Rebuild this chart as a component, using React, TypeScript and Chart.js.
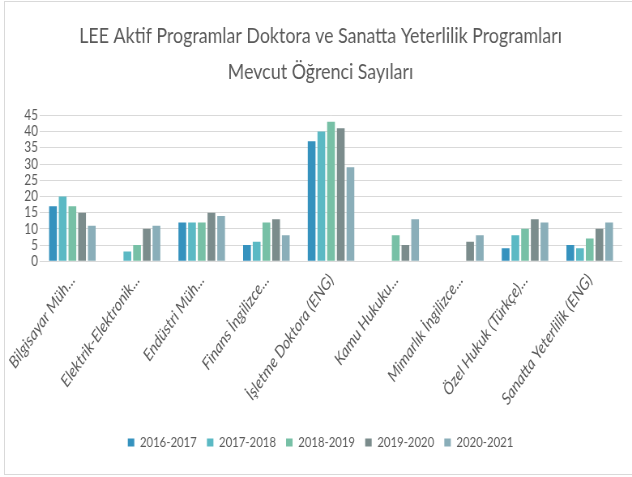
import React, { useEffect, useRef } from "react";
import { Chart, registerables } from "chart.js";

Chart.register(...registerables);

const categories = [
  "Bilgisayar Müh...",
  "Elektrik-Elektronik...",
  "Endüstri Müh...",
  "Finans İngilizce...",
  "İşletme Doktora (ENG)",
  "Kamu Hukuku...",
  "Mimarlık İngilizce...",
  "Özel Hukuk (Türkçe)...",
  "Sanatta Yeterlilik (ENG)",
];

const seriesNames = ["2016-2017", "2017-2018", "2018-2019", "2019-2020", "2020-2021"];

const y2016 = [17, null, 12, 5, 37, null, null, 4, 5];
const y2017 = [20, 3, 12, 6, 40, null, null, 8, 4];
const y2018 = [17, 5, 12, 12, 43, 8, null, 10, 7];
const y2019 = [15, 10, 15, 13, 41, 5, 6, 13, 10];
const y2020 = [11, 11, 14, 8, 29, 13, 8, 12, 12];

const seriesColors = ["#3592be", "#5bb9c4", "#77c0a6", "#7b8c8c", "#8aaeb9"];

const titleLines = [
  "LEE Aktif Programlar Doktora ve Sanatta Yeterlilik Programları",
  "Mevcut Öğrenci Sayıları",
];

const FONT = "Lato, 'Open Sans', sans-serif";
const TEXT = "#595959";

// the reference is horizontally condensed: draw wide, show narrow
const PAGE_W = 632;
const PAGE_H = 477;
const DRAW_W = 780;

export default function App() {
  const ref = useRef<HTMLCanvasElement | null>(null);

  useEffect(() => {
    if (!ref.current) return;
    const values = [y2016, y2017, y2018, y2019, y2020];
    const chart = new Chart(ref.current, {
      type: "bar",
      data: {
        labels: categories,
        datasets: seriesNames.map((name, i) => ({
          label: name,
          data: values[i],
          backgroundColor: seriesColors[i],
          borderWidth: 0,
          categoryPercentage: 0.75,
          barPercentage: 0.8,
        })),
      },
      options: {
        responsive: false,
        animation: false,
        devicePixelRatio: 1,
        layout: { padding: { left: 23.5, right: 12.3, top: 0, bottom: 17.6 } },
        plugins: {
          tooltip: { enabled: false },
          title: {
            display: true,
            text: titleLines,
            color: TEXT,
            font: { family: FONT, size: 22, weight: "normal", lineHeight: 1.64 },
            padding: { top: 17.5, bottom: 25.7 },
          },
          legend: {
            position: "bottom",
            labels: {
              color: TEXT,
              font: { family: FONT, size: 14 },
              boxWidth: 8,
              boxHeight: 8,
              padding: 12.5,
            },
          },
        },
        scales: {
          x: {
            afterFit: (s: any) => {
              s.height = 161.6;
            },
            grid: { display: false },
            border: { display: true, color: "#d9d9d9" },
            ticks: {
              color: TEXT,
              font: { family: FONT, size: 17, style: "italic" },
              minRotation: 50,
              maxRotation: 50,
              autoSkip: false,
              padding: 1,
            },
          },
          y: {
            min: 0,
            max: 45,
            afterFit: (s: any) => {
              s.width = 25.9;
            },
            ticks: {
              stepSize: 5,
              autoSkip: false,
              color: TEXT,
              font: { family: FONT, size: 14.5 },
              padding: 2.5,
            },
            grid: { color: "#d9d9d9", drawTicks: false },
            border: { display: false },
          },
        },
      },
    });
    return () => chart.destroy();
  }, []);

  return (
    <div style={{ position: "fixed", left: 0, top: 0, width: PAGE_W, height: PAGE_H, background: "#fff", overflow: "hidden" }}>
      <div
        style={{
          position: "absolute",
          left: 4,
          top: 1,
          width: 640,
          height: 472,
          border: "1px solid #d9d9d9",
        }}
      />
      <canvas
        ref={ref}
        width={DRAW_W}
        height={PAGE_H}
        style={{ position: "absolute", left: 0, top: 0, width: PAGE_W + "px", height: PAGE_H + "px" }}
      />
    </div>
  );
}
